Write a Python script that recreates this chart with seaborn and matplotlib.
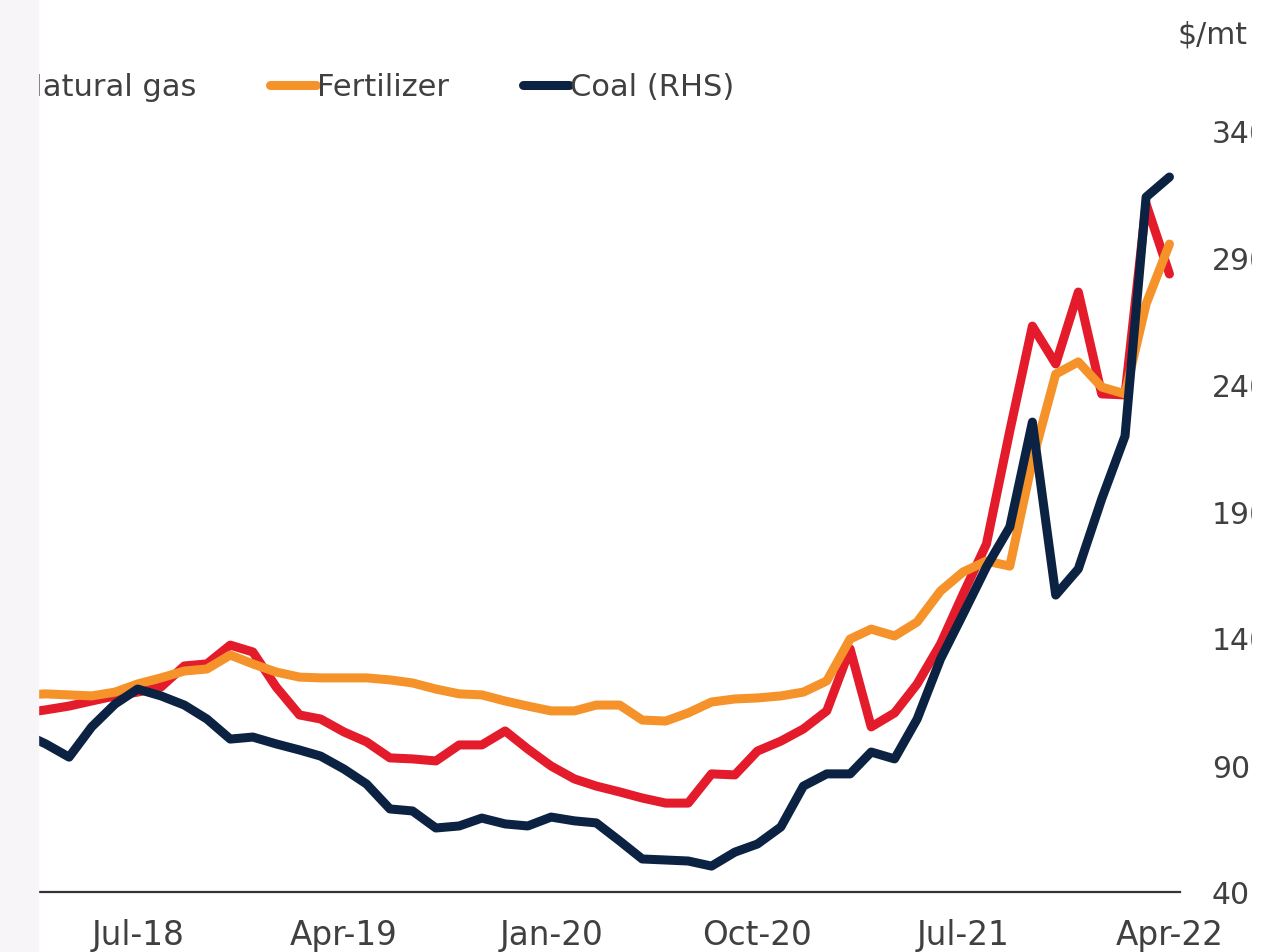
import pandas as pd
import numpy as np
import seaborn as sns
import matplotlib.pyplot as plt
import matplotlib.dates as mdates
from matplotlib.lines import Line2D
from matplotlib.patches import Rectangle

# monthly, Jan-18 .. Apr-22
months = pd.date_range("2018-01-01", "2022-04-01", freq="MS")

natural_gas = [109.7, 110.5, 111.7, 113.2, 115.2, 117.2, 118.7, 120.7, 129.0, 129.8,
               137.2, 134.5, 120.7, 109.7, 108.1, 103.0, 99.1, 92.8, 92.4, 91.6,
               97.9, 97.9, 103.4, 96.3, 89.6, 84.5, 81.7, 79.4, 77.0, 75.0,
               75.0, 86.5, 86.1, 95.5, 99.4, 104.2, 111.3, 135.7, 105.0, 110.5,
               121.9, 137.6, 157.3, 177.0, 221.5, 262.8, 247.9, 276.2, 236.1, 235.7,
               310.9, 283.3]

fertilizer = [117.2, 117.6, 118.0, 117.6, 117.2, 118.7, 121.9, 124.3, 127.0, 127.8,
              133.3, 129.8, 126.6, 124.6, 124.3, 124.3, 124.3, 123.5, 122.3, 119.9,
              118.0, 117.6, 115.2, 113.2, 111.3, 111.3, 113.6, 113.6, 107.7, 107.3,
              110.5, 114.8, 116.0, 116.4, 117.2, 118.7, 123.1, 139.6, 143.5, 140.8,
              146.3, 158.5, 166.0, 170.3, 168.3, 209.7, 243.9, 248.7, 238.8, 236.1,
              271.5, 295.1]

coal = [106.1, 102.2, 98.3, 93.1, 105.0, 114.0, 119.9, 117.2, 113.6, 108.1,
        100.2, 101.0, 98.3, 95.9, 93.5, 88.4, 82.5, 72.7, 71.9, 65.2,
        66.0, 69.1, 66.8, 66.0, 69.5, 68.0, 67.2, 60.1, 53.0, 52.6,
        52.2, 50.2, 55.7, 58.9, 65.6, 81.7, 86.5, 86.5, 95.1, 92.4,
        108.1, 131.7, 149.4, 168.0, 183.7, 225.0, 156.9, 167.2, 194.7, 219.5,
        313.6, 321.5]

series_names = ["Natural gas", "Fertilizer", "Coal (RHS)"]
colors = ["#e31b2b", "#f5922a", "#0c2242"]
tick_dates = ["2018-07-01", "2019-04-01", "2020-01-01", "2020-10-01", "2021-07-01", "2022-04-01"]
rhs_ticks = [40, 90, 140, 190, 240, 290, 340]

sns.set_theme(style="white")
plt.rcParams["font.family"] = ["DejaVu Sans"]
text_color = "#404040"
lw = 6.5

fig = plt.figure(figsize=(12.64, 9.53), dpi=100)
ax = fig.add_axes([-10 / 1264, 60 / 953, 1190 / 1264, 762 / 953])
ax2 = ax.twinx()

sns.lineplot(x=months, y=natural_gas, ax=ax, color=colors[0], lw=lw,
             solid_capstyle="round", solid_joinstyle="round")
sns.lineplot(x=months, y=fertilizer, ax=ax, color=colors[1], lw=lw,
             solid_capstyle="round", solid_joinstyle="round")
sns.lineplot(x=months, y=coal, ax=ax2, color=colors[2], lw=lw,
             solid_capstyle="round", solid_joinstyle="round")

xmin, xmax = pd.Timestamp("2017-12-17"), pd.Timestamp("2022-04-15")
for a in (ax, ax2):
    a.set_xlim(xmin, xmax)
    a.set_ylim(40, 340)
    a.set_xlabel("")
    a.set_ylabel("")
    for s in a.spines.values():
        s.set_visible(False)
    a.patch.set_alpha(0)

ax.spines["bottom"].set_visible(True)
ax.spines["bottom"].set_color("#333333")
ax.spines["bottom"].set_linewidth(1.6)
ax.set_yticks([])
ax.set_xticks(pd.to_datetime(tick_dates))
ax.xaxis.set_major_formatter(mdates.DateFormatter("%b-%y"))
ax.tick_params(axis="x", length=0, pad=19, labelsize=23.5, colors=text_color)

ax2.set_yticks(rhs_ticks)
ax2.tick_params(axis="y", length=0, pad=23, labelsize=21.5, colors=text_color)

fig.text(1178 / 1264, 1 - 35 / 953, "$/mt", fontsize=21.5, color=text_color,
         ha="left", va="center")

handles = [Line2D([], [], color=c, lw=lw, solid_capstyle="round") for c in colors]
fig.legend(handles, series_names, loc="center left", ncol=3,
           bbox_to_anchor=(-27 / 1264, 1 - 88 / 953), frameon=False,
           fontsize=22, labelcolor=text_color, handlelength=1.5,
           handletextpad=0.05, columnspacing=2.4, borderpad=0, borderaxespad=0)

# the original screenshot is cropped on both sides
fig.add_artist(Rectangle((0, 0), 38 / 1264, 1, transform=fig.transFigure,
                         color="#f7f5f7", zorder=10))
fig.add_artist(Rectangle((1252 / 1264, 0), 12 / 1264, 1, transform=fig.transFigure,
                         color="white", zorder=10))

fig.savefig("out.png", dpi=100)
